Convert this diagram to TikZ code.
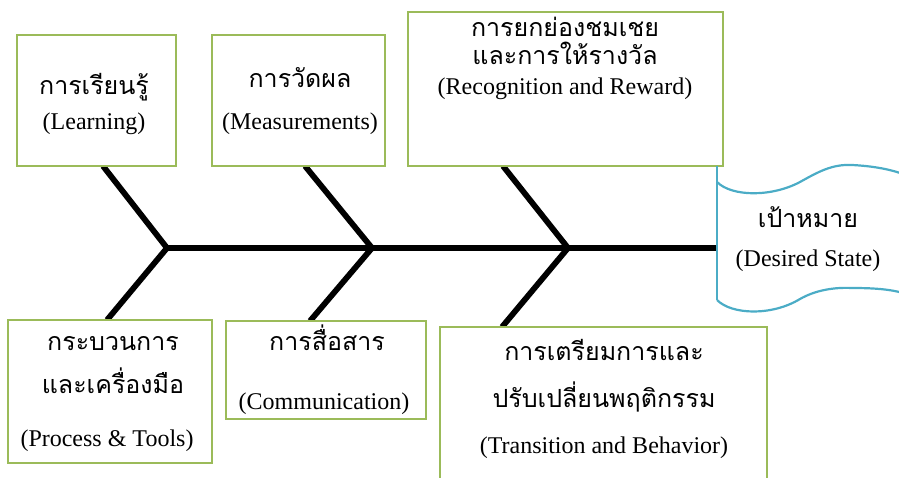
\documentclass[tikz,border=0pt]{standalone}
\usepackage{fontspec}
\setmainfont{Liberation Serif}
\newfontfamily\thaifont[Script=Thai]{Loma}
\usetikzlibrary{calc,backgrounds}
\definecolor{boxgreen}{RGB}{155,187,89}
\definecolor{goalblue}{RGB}{75,172,198}
\begin{document}
\begin{tikzpicture}[x=1pt,y=-1pt,
  box/.style={draw=boxgreen,line width=2.6pt,fill=white,anchor=north west,
    inner sep=0pt,outer sep=0pt},
  goal/.style={draw=goalblue,line width=2.2pt},
  bone/.style={line width=5.8pt,black,line join=miter},
  th/.style={font=\thaifont\fontsize{25}{28}\selectfont,anchor=base,inner sep=0pt,
    text height=16pt,text depth=2pt},
  en/.style={font=\fontsize{24}{28}\selectfont,anchor=base,inner sep=0pt,
    text height=16pt,text depth=5pt}]
\useasboundingbox (0,0) rectangle (899,478);
\clip (0,0) rectangle (899,478);

% cause boxes
\node[box,minimum width=159pt,minimum height=131pt] (L) at (17,35) {};
\node[box,minimum width=173pt,minimum height=131pt] (M) at (212,35) {};
\node[box,minimum width=315pt,minimum height=154pt] (R) at (408,12) {};
\node[box,minimum width=204pt,minimum height=143pt] (P) at (8,320) {};
\node[box,minimum width=200pt,minimum height=98pt]  (C) at (226,321) {};
\node[box,minimum width=327pt,minimum height=165pt] (T) at (440,327) {};

% goal area
\node[anchor=north west,minimum width=184pt,minimum height=136pt,inner sep=0pt] (D) at (717,166) {};
\begin{scope}[shift={(D.north west)}]
  \draw[goal] (0,0) -- (0,134);
  \draw[goal] (0,16) .. controls (15,31) and (55,31) .. (83,16)
     .. controls (101,6) and (115,-2) .. (135,-1)
     .. controls (155,0) and (172,3) .. (186,8);
  \draw[goal] (0,134) .. controls (15,149) and (55,150) .. (83,133)
     .. controls (97,125) and (115,121) .. (135,122)
     .. controls (155,122) and (172,123) .. (186,127);
\end{scope}

% spine and bones
\coordinate (j1) at (167,248);
\coordinate (j2) at (372,248);
\coordinate (j3) at (568,248);
\begin{scope}[on background layer]
  \draw[bone] ([xshift=6.5pt]L.south) -- (j1) -- ([xshift=-3pt]P.north);
  \draw[bone] ([xshift=6.5pt]M.south) -- (j2) -- ([xshift=-16pt]C.north);
  \draw[bone] ([xshift=-62.5pt]R.south) -- (j3) -- ([xshift=-101.5pt]T.north);
  \draw[bone] (j1) -- (j1 -| D.west);
\end{scope}

% labels
\node[th] (l1) at (94,95) {การเรียนรู้};
\node[en] (l2) at (94,130) {(Learning)};
\node[th] (m1) at (300,88) {การวัดผล};
\node[en] (m2) at (300,130) {(Measurements)};
\node[th] (r1) at (565,37) {การยกย่องชมเชย};
\node[th] (r2) at (565,65) {และการให้รางวัล};
\node[en] (r3) at (565,95) {(Recognition and Reward)};
\node[th] (d1) at (808,228) {เป้าหมาย};
\node[en] (d2) at (808,266) {(Desired State)};
\node[th] (p1) at (113,350) {กระบวนการ};
\node[th] (p2) at (113,393) {และเครื่องมือ};
\node[en] (p3) at (107,446) {(Process \& Tools)};
\node[th] (c1) at (327,350) {การสื่อสาร};
\node[en] (c2) at (324,409) {(Communication)};
\node[th] (t1) at (604,360) {การเตรียมการและ};
\node[th] (t2) at (604,407) {ปรับเปลี่ยนพฤติกรรม};
\node[en] (t3) at (604,453) {(Transition and Behavior)};
\end{tikzpicture}
\end{document}
